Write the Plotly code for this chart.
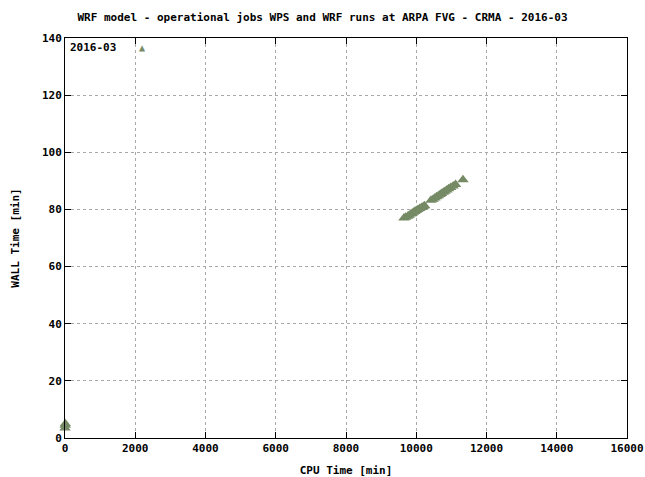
import plotly.graph_objects as go

# CPU time vs wall-clock time of the operational WPS/WRF jobs, March 2016
cpu_min = [0, 5, 10,
           9650, 9700, 9760, 9800, 9850, 9880, 9920, 9960, 10000, 10050, 10100, 10150, 10200, 10240,
           10420, 10480, 10530, 10580, 10630, 10680, 10720, 10770, 10820, 10870, 10920, 10980, 11050, 11120,
           11330]
wall_min = [3.5, 4.5, 5.0,
            77.0, 77.3, 77.6, 78.0, 78.4, 78.6, 79.0, 79.3, 79.6, 80.0, 80.3, 80.7, 81.0, 81.3,
            83.2, 83.6, 84.0, 84.4, 84.8, 85.2, 85.6, 86.0, 86.4, 86.8, 87.2, 87.7, 88.2, 88.7,
            90.4]

x_ticks = [0, 2000, 4000, 6000, 8000, 10000, 12000, 14000, 16000]
x_labels = [str(v) for v in x_ticks]
y_ticks = [0, 20, 40, 60, 80, 100, 120, 140]
y_labels = [str(v) for v in y_ticks]

FONT = "DejaVu Sans Mono"
MARK = "#758a65"

fig = go.Figure()
fig.add_trace(go.Scatter(
    x=cpu_min, y=wall_min, mode="markers", name="2016-03",
    marker=dict(symbol="triangle-up", size=10, color=MARK),
    showlegend=False, cliponaxis=False,
))

axis_common = dict(
    showline=True, linecolor="black", linewidth=1, mirror="ticks",
    ticks="inside", ticklen=6, tickcolor="black",
    showgrid=True, gridcolor="#a8a8a8", griddash="dot", gridwidth=1,
    zeroline=False,
    tickfont=dict(family=FONT, size=11, color="black", weight="bold"),
)

fig.update_layout(
    width=645, height=477,
    margin=dict(l=65, r=18, t=38, b=39, autoexpand=False),
    paper_bgcolor="white", plot_bgcolor="white",
    title=dict(
        text="WRF model - operational jobs WPS and WRF runs at ARPA FVG - CRMA - 2016-03",
        x=0.5, xanchor="center", y=0.965, yanchor="middle",
        font=dict(family=FONT, size=11, color="black", weight="bold"),
    ),
    xaxis=dict(axis_common, range=[0, 16000], tickvals=x_ticks, ticktext=x_labels,
               title=dict(text="CPU Time [min]", standoff=14,
                          font=dict(family=FONT, size=11, color="black", weight="bold"))),
    yaxis=dict(axis_common, range=[0, 140], tickvals=y_ticks, ticktext=y_labels,
               title=dict(text="WALL Time [min]", standoff=20,
                          font=dict(family=FONT, size=11, color="black", weight="bold"))),
    showlegend=False,
    annotations=[
        dict(text="2016-03", xref="paper", yref="paper", x=0.006, y=0.977,
             xanchor="left", yanchor="middle", showarrow=False,
             font=dict(family=FONT, size=11, color="black", weight="bold")),
        dict(text="▲", xref="paper", yref="paper", x=0.137, y=0.977,
             xanchor="center", yanchor="middle", showarrow=False,
             font=dict(family=FONT, size=10, color=MARK)),
    ],
)

fig.write_html("out.html")
